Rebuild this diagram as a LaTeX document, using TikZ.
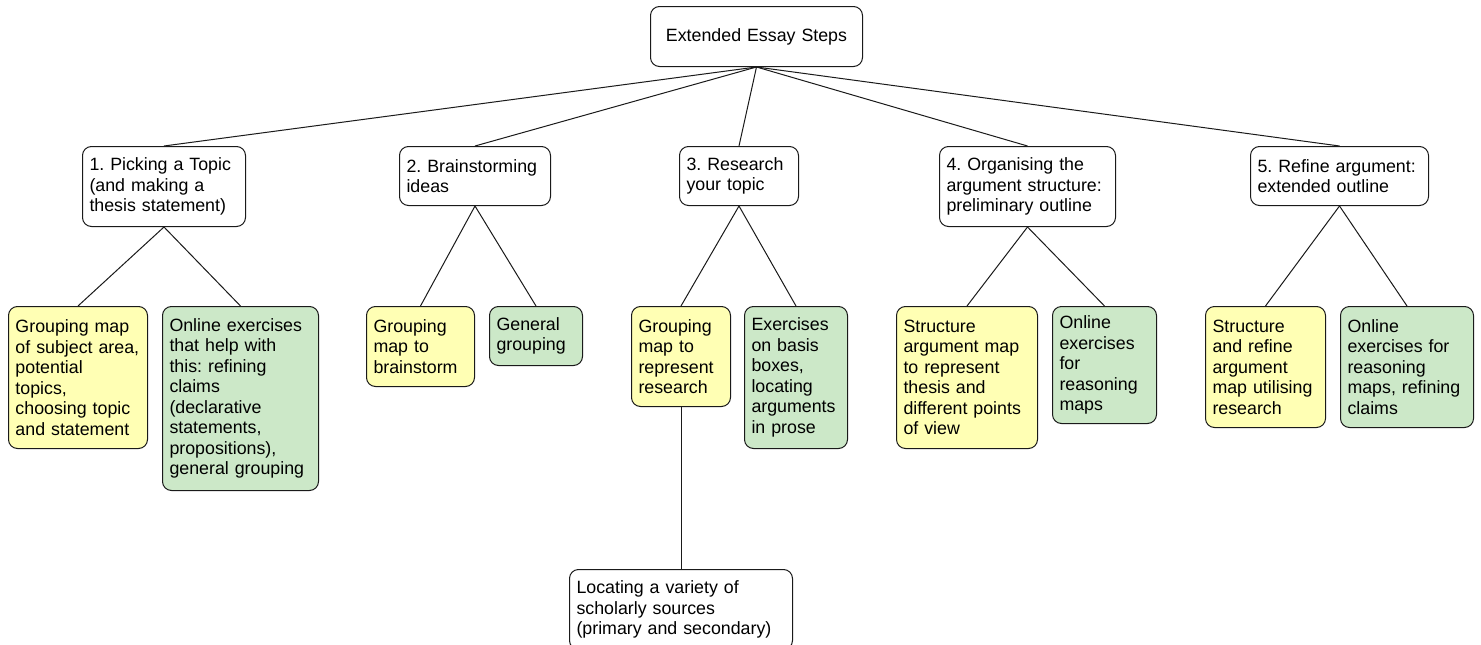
\documentclass[tikz,border=0pt]{standalone}
\usepackage{fontspec}
\setmainfont{Liberation Sans}
\usepackage{xcolor}
\usetikzlibrary{positioning}
\definecolor{mapyellow}{HTML}{FFFFB4}
\definecolor{mapgreen}{HTML}{CCE8C8}
\definecolor{mapborder}{HTML}{1A1A1A}
\frenchspacing

\tikzset{
  card/.style={draw=mapborder, line width=1pt, rounded corners=9pt, fill=white,
    align=left, anchor=north west, inner xsep=7pt, inner ysep=0pt,
    font=\fontsize{17.8}{20.5}\selectfont},
  mapcard/.style={card, fill=mapyellow},
  drillcard/.style={card, fill=mapgreen},
  link/.style={draw=mapborder, line width=1pt}
}

\begin{document}
\begin{tikzpicture}[x=1pt, y=-1pt]
    \clip (0,0) rectangle (1481,645);
    \fill[white] (0,0) rectangle (1481,645);

    % top level
    \node[card, align=center, text width=198pt, minimum height=60pt] (root) at (650,6) {Extended Essay Steps};

    % the five steps
    \node[card, text width=149pt, minimum height=80pt] (s1) at (82,146) {1. Picking a Topic\\(and making a\\thesis statement)};
    \node[card, text width=137pt, minimum height=59pt] (s2) at (399,146) {2. Brainstorming\\ideas};
    \node[card, text width=105pt, minimum height=59pt] (s3) at (679,146) {3. Research\\your topic};
    \node[card, text width=162pt, minimum height=80pt] (s4) at (939,146) {4. Organising the\\argument structure:\\preliminary outline};
    \node[card, text width=164pt, minimum height=59pt] (s5) at (1250,146) {5. Refine argument:\\extended outline};

    % maps and exercises
    \node[mapcard, text width=125pt, minimum height=142pt] (s1a) at (8,306) {Grouping map\\of subject area,\\potential\\topics,\\choosing topic\\and statement};
    \node[drillcard, text width=142pt, minimum height=184pt] (s1b) at (162,306) {Online exercises\\that help with\\this: refining\\claims\\(declarative\\statements,\\propositions),\\general grouping};
    \node[mapcard, text width=94pt, minimum height=80pt] (s2a) at (366,306) {Grouping\\map to\\brainstorm};
    \node[drillcard, text width=79pt, minimum height=59pt] (s2b) at (489,306) {General\\grouping};
    \node[mapcard, text width=85pt, minimum height=100pt] (s3a) at (631,306) {Grouping\\map to\\represent\\research};
    \node[drillcard, text width=89pt, minimum height=142pt] (s3b) at (744,306) {Exercises\\on basis\\boxes,\\locating\\arguments\\in prose};
    \node[card, text width=209pt, minimum height=80pt] (s3c) at (569,569) {Locating a variety of\\scholarly sources\\(primary and secondary)};
    \node[mapcard, text width=127pt, minimum height=142pt] (s4a) at (896,306) {Structure\\argument map\\to represent\\thesis and\\different points\\of view};
    \node[drillcard, text width=90pt, minimum height=117pt] (s4b) at (1052,306) {Online\\exercises\\for\\reasoning\\maps};
    \node[mapcard, text width=106pt, minimum height=121pt] (s5a) at (1205,306) {Structure\\and refine\\argument\\map utilising\\research};
    \node[drillcard, text width=119pt, minimum height=121pt] (s5b) at (1340,306) {Online\\exercises for\\reasoning\\maps, refining\\claims};

    % connectors
    \foreach \n in {s1,s2,s3,s4,s5}
      \draw[link] (root.south) -- (\n.north);
    \foreach \n/\m in {s1/s1a, s1/s1b, s2/s2a, s2/s2b, s3/s3a, s3/s3b, s3a/s3c, s4/s4a, s4/s4b, s5/s5a, s5/s5b}
      \draw[link] (\n.south) -- (\m.north);
  \end{tikzpicture}
\end{document}
